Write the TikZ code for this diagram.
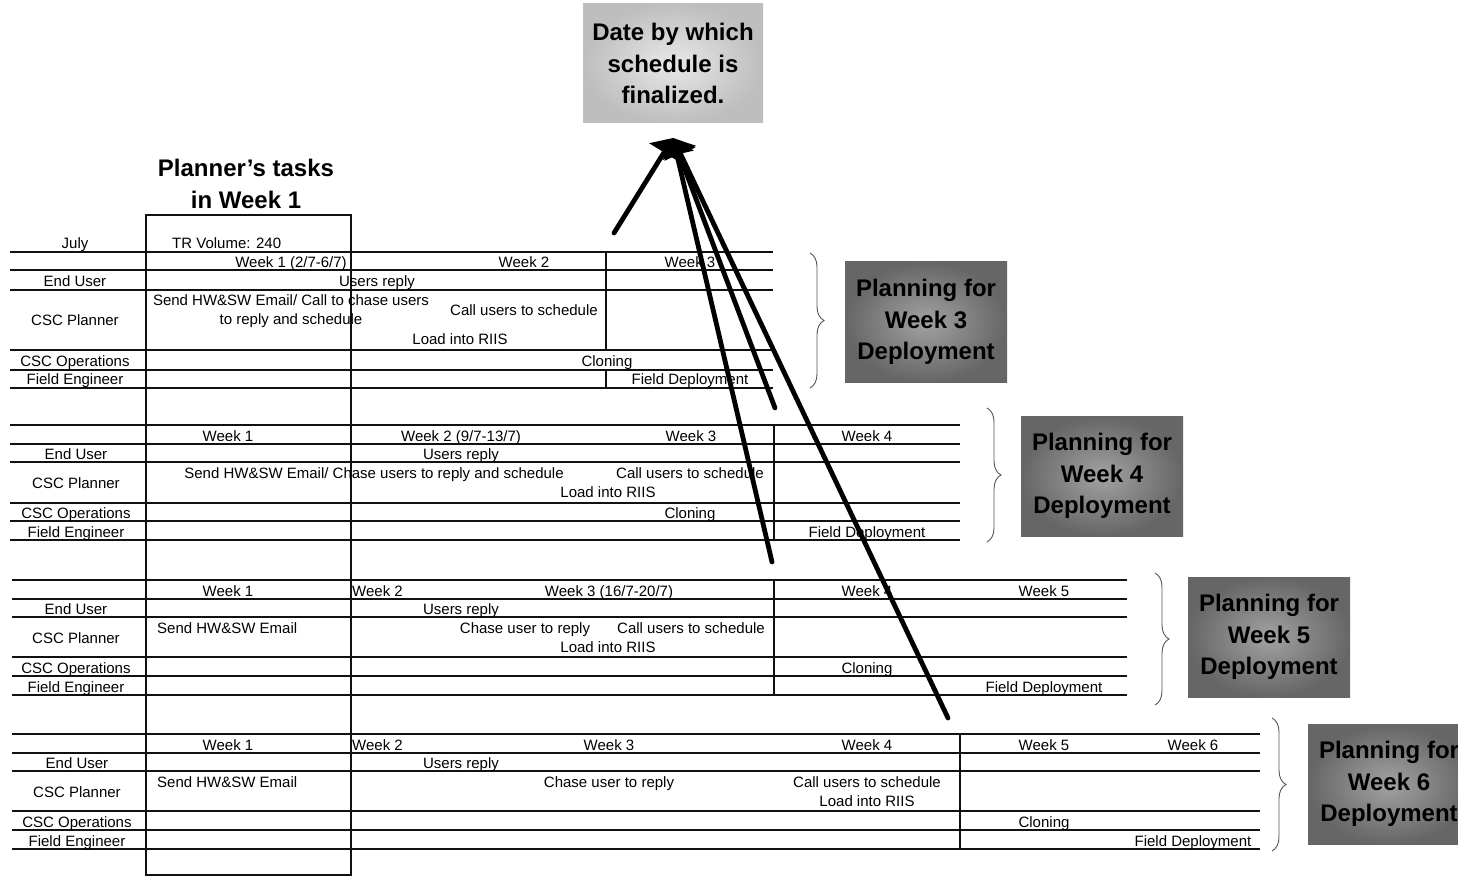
\documentclass[tikz,border=0pt]{standalone}
\usepackage{fontspec}
\setmainfont{Liberation Sans}
\usetikzlibrary{arrows.meta,decorations.pathreplacing}

\definecolor{rule}{HTML}{111111}
\definecolor{boxdark}{HTML}{666666}
\definecolor{boxmid}{HTML}{A2A2A2}
\definecolor{boxlight}{HTML}{BEBEBE}
\definecolor{boxpale}{HTML}{E8E8E8}
\definecolor{bracec}{HTML}{555555}

\tikzset{
  grid/.style={line width=1.8pt, draw=rule},
  divider/.style={line width=2.6pt, draw=rule},
  cell/.style={font=\fontsize{15}{17}\selectfont, inner sep=0pt, anchor=base},
  cellL/.style={cell, anchor=base west},
  title/.style={font=\bfseries\fontsize{24}{31.5}\selectfont, align=center, inner sep=0pt},
  planbox/.style={title, inner color=boxmid, outer color=boxdark,
                  minimum width=162pt, minimum height=120pt},
  datebox/.style={title, inner color=boxpale, outer color=boxlight,
                  minimum width=180pt, minimum height=119pt},
  curly/.style={draw=bracec, line width=0.9pt, decorate,
                decoration={brace, amplitude=14pt}},
  bigarrow/.style={draw=black, line width=4.8pt, line cap=round,
                   -{Triangle[width=34pt,length=17pt]}},
}

\begin{document}
\begin{tikzpicture}[x=1pt, y=-1pt]
\path[use as bounding box] (0,0) rectangle (1458,877);
\clip (0,0) rectangle (1458,877);
\fill[white] (0,0) rectangle (1458,877);

% ---------- titles ----------
\node[datebox] (date) at (673,63.5) {Date by which\\schedule is\\finalized.};
\node[title] (plannertitle) at (246,184) {Planner's tasks\\in Week 1};

% ---------- planner's week-1 column ----------
\draw[line width=1.6pt, draw=rule] (146,215) rectangle (351,875);

% ---------- schedule 1 ----------
\foreach \y in {252,270,290,350,370,388} \draw[grid] (10,\y) -- (773,\y);
\draw[divider] (606,252) -- (606,350);
\draw[divider] (606,370) -- (606,388);
\node[cell] (a-month) at (75,249) {July};
\node[cellL] (a-vol) at (172,249) {TR Volume: 240};
\node[cell] (a-w1) at (291,267) {Week 1 (2/7-6/7)};
\node[cell] (a-w2) at (524,267) {Week 2};
\node[cell] (a-w3) at (690,267) {Week 3};
\node[cell] (a-eu) at (75,287) {End User};
\node[cell] (a-reply) at (377,287) {Users reply};
\node[cell] (a-pl) at (75,325) {CSC Planner};
\node[cell] (a-send1) at (291,305) {Send HW\&SW Email/ Call to chase users};
\node[cell] (a-send2) at (291,324) {to reply and schedule};
\node[cell] (a-call) at (524,315) {Call users to schedule};
\node[cell] (a-load) at (460,344) {Load into RIIS};
\node[cell] (a-ops) at (75,366) {CSC Operations};
\node[cell] (a-clone) at (607,366) {Cloning};
\node[cell] (a-fe) at (75,384) {Field Engineer};
\node[cell] (a-dep) at (690,384) {Field Deployment};

% ---------- schedule 2 ----------
\foreach \y in {425,444,462,503,521,540} \draw[grid] (10,\y) -- (960,\y);
\draw[divider] (774,425) -- (774,540);
\node[cell] (b-w1) at (228,441) {Week 1};
\node[cell] (b-w2) at (461,441) {Week 2 (9/7-13/7)};
\node[cell] (b-w3) at (691,441) {Week 3};
\node[cell] (b-w4) at (867,441) {Week 4};
\node[cell] (b-eu) at (76,459) {End User};
\node[cell] (b-reply) at (461,459) {Users reply};
\node[cell] (b-pl) at (76,488) {CSC Planner};
\node[cell] (b-send) at (374,478) {Send HW\&SW Email/ Chase users to reply and schedule};
\node[cell] (b-call) at (690,478) {Call users to schedule};
\node[cell] (b-load) at (608,497) {Load into RIIS};
\node[cell] (b-ops) at (76,518) {CSC Operations};
\node[cell] (b-clone) at (690,518) {Cloning};
\node[cell] (b-fe) at (76,537) {Field Engineer};
\node[cell] (b-dep) at (867,537) {Field Deployment};

% ---------- schedule 3 ----------
\foreach \y in {580,599,617,657,676,695} \draw[grid] (12,\y) -- (1127,\y);
\draw[divider] (774,580) -- (774,695);
\node[cell] (c-w1) at (228,596) {Week 1};
\node[cellL] (c-w2) at (352,596) {Week 2};
\node[cell] (c-w3) at (609,596) {Week 3 (16/7-20/7)};
\node[cell] (c-w4) at (867,596) {Week 4};
\node[cell] (c-w5) at (1044,596) {Week 5};
\node[cell] (c-eu) at (76,614) {End User};
\node[cell] (c-reply) at (461,614) {Users reply};
\node[cell] (c-pl) at (76,643) {CSC Planner};
\node[cellL] (c-send) at (157,633) {Send HW\&SW Email};
\node[cell] (c-chase) at (525,633) {Chase user to reply};
\node[cell] (c-call) at (691,633) {Call users to schedule};
\node[cell] (c-load) at (608,652) {Load into RIIS};
\node[cell] (c-ops) at (76,673) {CSC Operations};
\node[cell] (c-clone) at (867,673) {Cloning};
\node[cell] (c-fe) at (76,692) {Field Engineer};
\node[cell] (c-dep) at (1044,692) {Field Deployment};

% ---------- schedule 4 ----------
\foreach \y in {734,753,771,811,830,849} \draw[grid] (12,\y) -- (1260,\y);
\draw[divider] (960,734) -- (960,849);
\node[cell] (d-w1) at (228,750) {Week 1};
\node[cellL] (d-w2) at (352,750) {Week 2};
\node[cell] (d-w3) at (609,750) {Week 3};
\node[cell] (d-w4) at (867,750) {Week 4};
\node[cell] (d-w5) at (1044,750) {Week 5};
\node[cell] (d-w6) at (1193,750) {Week 6};
\node[cell] (d-eu) at (77,768) {End User};
\node[cell] (d-reply) at (461,768) {Users reply};
\node[cell] (d-pl) at (77,797) {CSC Planner};
\node[cellL] (d-send) at (157,787) {Send HW\&SW Email};
\node[cell] (d-chase) at (609,787) {Chase user to reply};
\node[cell] (d-call) at (867,787) {Call users to schedule};
\node[cell] (d-load) at (867,806) {Load into RIIS};
\node[cell] (d-ops) at (77,827) {CSC Operations};
\node[cell] (d-clone) at (1044,827) {Cloning};
\node[cell] (d-fe) at (77,846) {Field Engineer};
\node[cell] (d-dep) at (1193,846) {Field Deployment};

% ---------- braces ----------
\draw[curly] (810,253) -- (810,388);
\draw[curly] (987,408) -- (987,542);
\draw[curly] (1155,573) -- (1155,705);
\draw[curly] (1272,718) -- (1272,851);

% ---------- planning labels ----------
\node[planbox] (p3) at (926,322) {Planning for\\Week 3\\Deployment};
\node[planbox] (p4) at (1102,476) {Planning for\\Week 4\\Deployment};
\node[planbox] (p5) at (1269,637) {Planning for\\Week 5\\Deployment};
\node[planbox] (p6) at (1389,784) {Planning for\\Week 6\\Deployment};

% ---------- arrows to the finalisation date ----------
\coordinate (tip) at (673,138);
\coordinate (e1) at (614,233);
\coordinate (e2) at (775,408);
\coordinate (e3) at (772,562);
\coordinate (e4) at (948,718);
\draw[bigarrow] (e1) -- (tip);
\draw[bigarrow] (e2) -- (tip);
\draw[bigarrow] (e3) -- (tip);
\draw[bigarrow] (e4) -- (tip);
\end{tikzpicture}
\end{document}
